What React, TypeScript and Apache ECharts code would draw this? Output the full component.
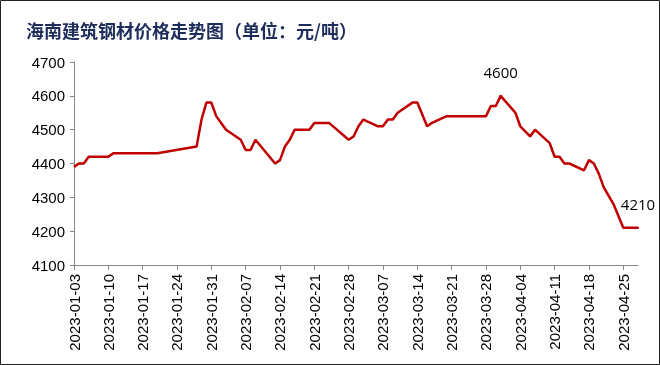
import React, { useEffect, useRef } from 'react';
import * as echarts from 'echarts';

const chartTitle = '海南建筑钢材价格走势图（单位：元/吨）';
const startDate = '2023-01-03';
const endDate = '2023-04-28';
const tickDates = [
  '2023-01-03', '2023-01-10', '2023-01-17', '2023-01-24', '2023-01-31', '2023-02-07',
  '2023-02-14', '2023-02-21', '2023-02-28', '2023-03-07', '2023-03-14', '2023-03-21',
  '2023-03-28', '2023-04-04', '2023-04-11', '2023-04-18', '2023-04-25',
];
const yMin = 4100;
const yMax = 4700;
const yStep = 100;

const dates = [
  '2023-01-03', '2023-01-04', '2023-01-05', '2023-01-06', '2023-01-09', '2023-01-10',
  '2023-01-11', '2023-01-12', '2023-01-13', '2023-01-16', '2023-01-17', '2023-01-18',
  '2023-01-19', '2023-01-20', '2023-01-28', '2023-01-29', '2023-01-30', '2023-01-31',
  '2023-02-01', '2023-02-02', '2023-02-03', '2023-02-06', '2023-02-07', '2023-02-08',
  '2023-02-09', '2023-02-13', '2023-02-14', '2023-02-15', '2023-02-16', '2023-02-17',
  '2023-02-20', '2023-02-21', '2023-02-22', '2023-02-23', '2023-02-24', '2023-02-28',
  '2023-03-01', '2023-03-02', '2023-03-03', '2023-03-06', '2023-03-07', '2023-03-08',
  '2023-03-09', '2023-03-10', '2023-03-13', '2023-03-14', '2023-03-16', '2023-03-17',
  '2023-03-20', '2023-03-21', '2023-03-22', '2023-03-23', '2023-03-24', '2023-03-27',
  '2023-03-28', '2023-03-29', '2023-03-30', '2023-03-31', '2023-04-03', '2023-04-04',
  '2023-04-06', '2023-04-07', '2023-04-10', '2023-04-11', '2023-04-12', '2023-04-13',
  '2023-04-14', '2023-04-17', '2023-04-18', '2023-04-19', '2023-04-20', '2023-04-21',
  '2023-04-23', '2023-04-25', '2023-04-26', '2023-04-27', '2023-04-28',
];
const prices = [
  4390, 4400, 4400, 4420, 4420, 4420,
  4430, 4430, 4430, 4430, 4430, 4430,
  4430, 4430, 4450, 4530, 4580, 4580,
  4540, 4520, 4500, 4470, 4440, 4440,
  4470, 4400, 4410, 4450, 4470, 4500,
  4500, 4520, 4520, 4520, 4520, 4470,
  4480, 4510, 4530, 4510, 4510, 4530,
  4530, 4550, 4580, 4580, 4510, 4520,
  4540, 4540, 4540, 4540, 4540, 4540,
  4540, 4570, 4570, 4600, 4550, 4510,
  4480, 4500, 4460, 4420, 4420, 4400,
  4400, 4380, 4410, 4400, 4370, 4330,
  4280, 4210, 4210, 4210, 4210,
];
const labeledDates = ['2023-03-31', '2023-04-28'];

const DAY = 86400000;
const base = Date.parse(startDate + 'T00:00:00Z');
const toDay = (s: string) => Math.round((Date.parse(s + 'T00:00:00Z') - base) / DAY);
const fmtDay = (d: number) => new Date(base + d * DAY).toISOString().slice(0, 10);

export default function App() {
  const ref = useRef<HTMLDivElement>(null);
  useEffect(() => {
    if (!ref.current) return;
    const chart = echarts.init(ref.current, undefined, { renderer: 'svg' });
    const tickVals = tickDates.map(toDay);
    const data = dates.map((d, i) => {
      const item: any = { value: [toDay(d), prices[i]] };
      if (labeledDates.includes(d)) {
        item.symbol = 'circle';
        item.symbolSize = 2;
        item.label = { show: true };
      }
      return item;
    });
    const axisColor = '#868686';
    chart.setOption({
      animation: false,
      title: {
        text: chartTitle,
        left: 21,
        top: 16,
        textStyle: {
          fontFamily: 'Noto Sans CJK SC',
          fontWeight: 'bold',
          fontSize: 18,
          color: '#1f2d5c',
        },
      },
      grid: { left: 74, right: 22, top: 62, bottom: 100 },
      xAxis: {
        type: 'value',
        min: 0,
        max: toDay(endDate),
        interval: 7,
        axisLine: { show: true, lineStyle: { color: axisColor, width: 1 } },
        axisTick: { show: true, customValues: tickVals, length: 5, lineStyle: { color: axisColor } },
        axisLabel: {
          customValues: tickVals,
          rotate: 90,
          formatter: (v: number) => fmtDay(v),
          fontFamily: 'Liberation Sans',
          fontSize: 15,
          color: '#000',
          margin: 9,
        },
        splitLine: { show: false },
      },
      yAxis: {
        type: 'value',
        min: yMin,
        max: yMax,
        interval: yStep,
        axisLine: { show: true, lineStyle: { color: axisColor, width: 1 } },
        axisTick: { show: true, length: 4, lineStyle: { color: axisColor } },
        axisLabel: {
          formatter: (v: number) => String(v),
          fontFamily: 'Liberation Sans',
          fontSize: 15,
          color: '#000',
          margin: 9,
        },
        splitLine: { show: false },
      },
      series: [
        {
          type: 'line',
          data,
          symbol: 'none',
          lineStyle: { color: '#C00000', width: 2.5 },
          itemStyle: { color: '#C00000' },
          label: {
            position: 'top',
            distance: 15,
            fontFamily: 'Open Sans',
            fontSize: 15,
            color: '#000',
            formatter: (p: any) => String(p.value[1]),
          },
        },
      ],
      graphic: [
        {
          type: 'rect',
          shape: { x: 0.5, y: 0.5, width: 659, height: 364 },
          style: { fill: 'none', stroke: '#222', lineWidth: 1 },
          silent: true,
        },
      ],
    });
    return () => chart.dispose();
  }, []);
  return <div ref={ref} style={{ position: 'fixed', left: 0, top: 0, width: 660, height: 365 }} />;
}
